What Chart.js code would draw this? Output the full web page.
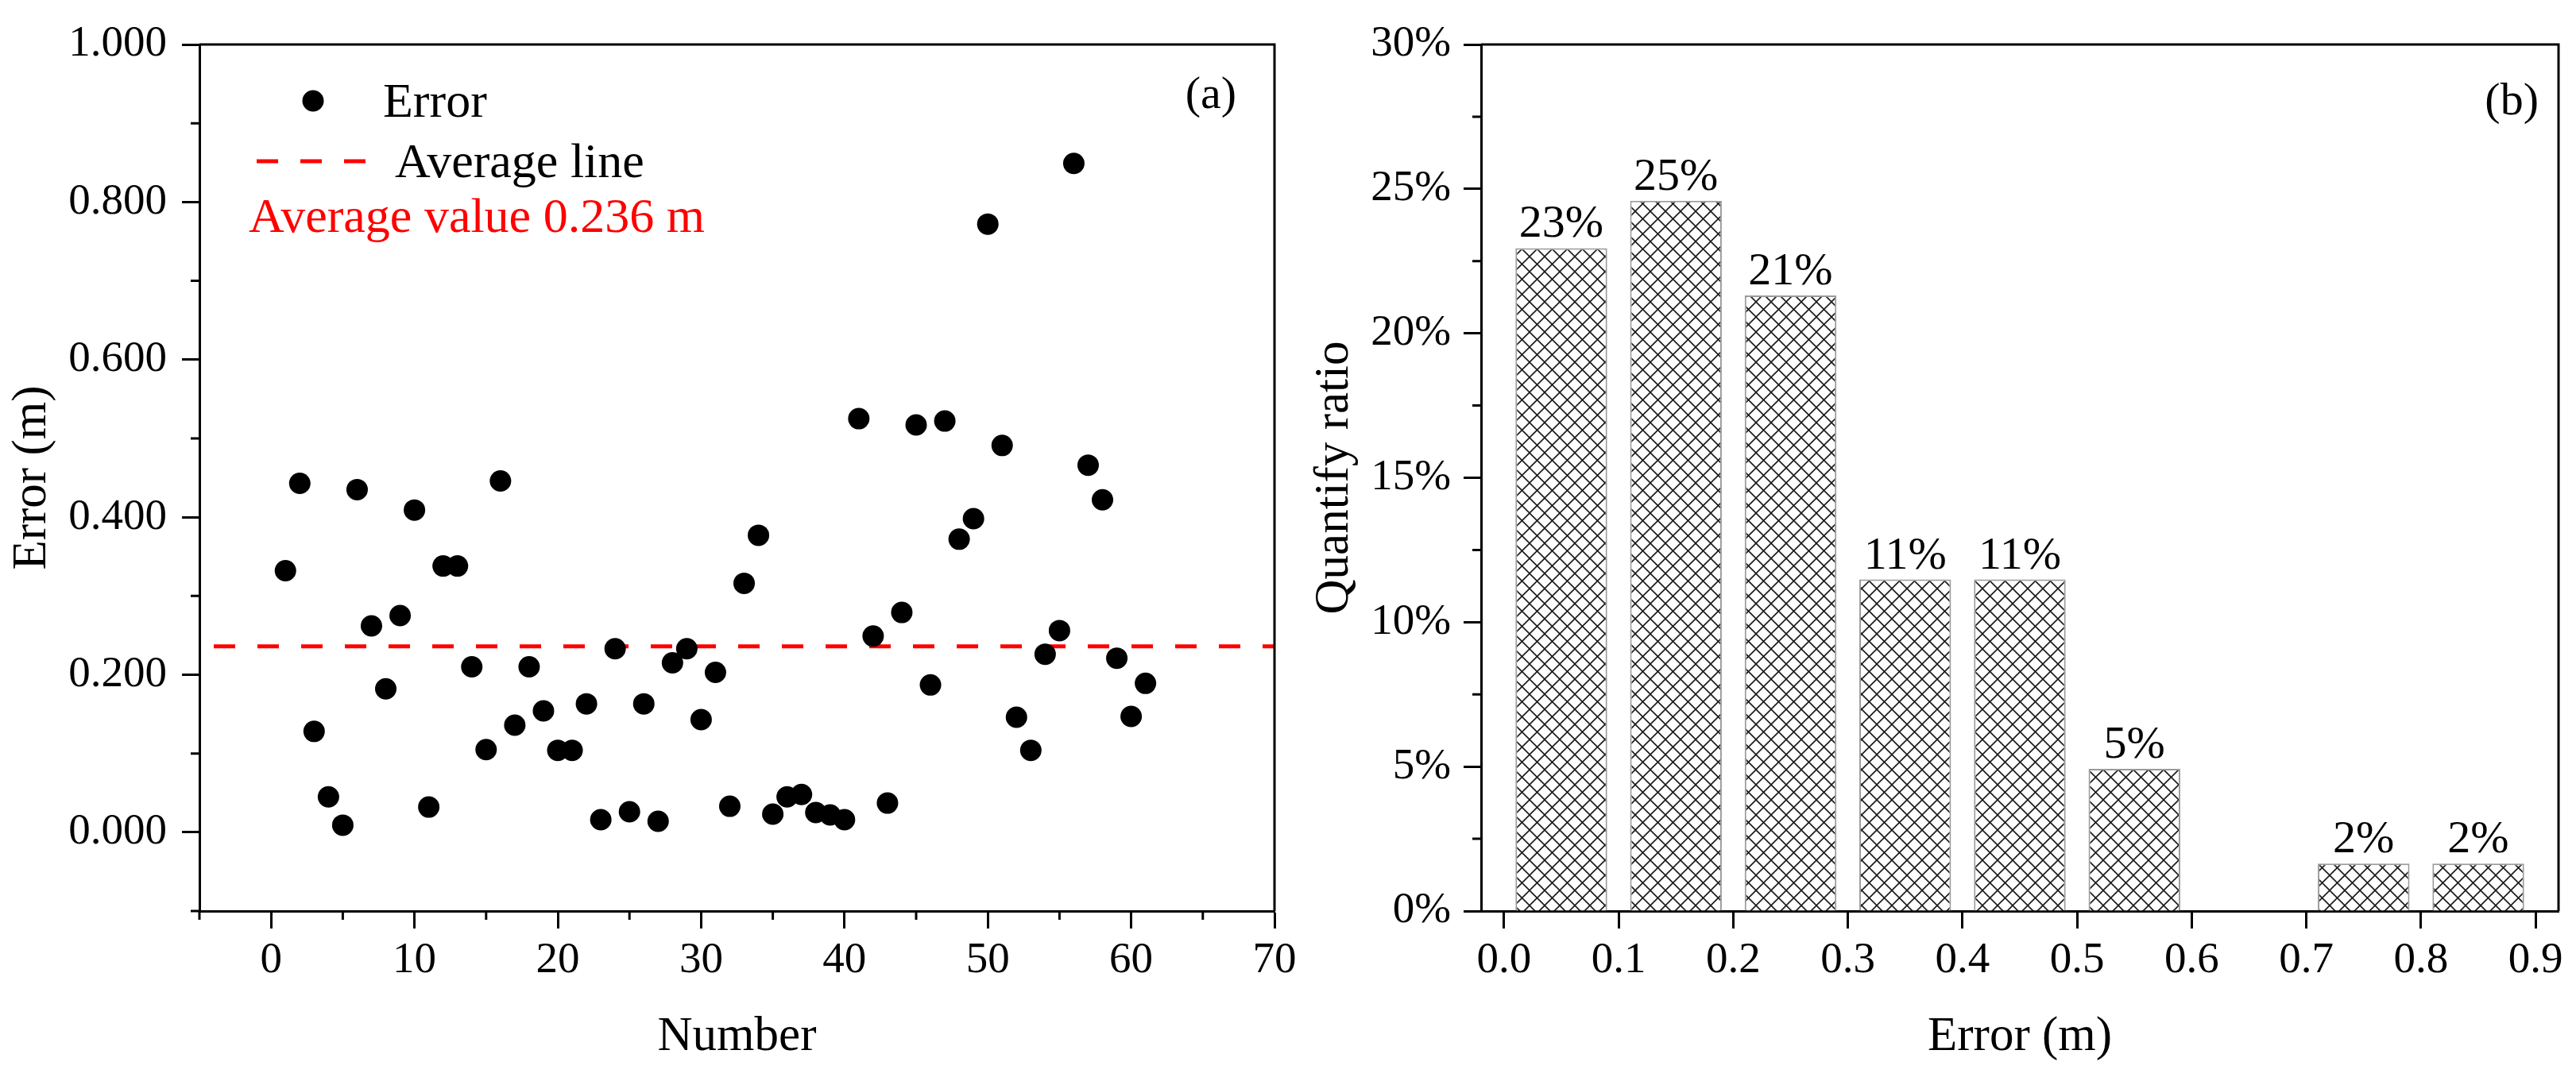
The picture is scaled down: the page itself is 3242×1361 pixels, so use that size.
<!DOCTYPE html>
<html><head><meta charset="utf-8">
<script src="https://cdn.jsdelivr.net/npm/chart.js@4.4.1/dist/chart.umd.min.js"></script>
<style>
html,body{margin:0;padding:0;background:#fff;width:3242px;height:1361px;overflow:hidden}
#wa{position:absolute;left:0;top:0;width:1640px;height:1361px}
#wb{position:absolute;left:1640px;top:0;width:1602px;height:1361px}
canvas{display:block}
</style></head><body>
<div id="wa"><canvas id="ca" width="1640" height="1361"></canvas></div>
<div id="wb"><canvas id="cb" width="1602" height="1361"></canvas></div>
<script>
// ---------- Panel (a) data ----------
const sampleNo = [1,2,3,4,5,6,7,8,9,10,11,12,13,14,15,16,17,18,19,20,21,22,23,24,25,26,27,28,29,30,
  31,32,33,34,35,36,37,38,39,40,41,42,43,44,45,46,47,48,49,50,51,52,53,54,55,56,57,58,59,60,61];
const errorValues = [0.332,0.443,0.128,0.045,0.009,0.435,0.262,0.182,0.275,0.409,
  0.032,0.338,0.338,0.210,0.105,0.446,0.136,0.210,0.154,0.104,
  0.104,0.163,0.016,0.233,0.026,0.163,0.014,0.215,0.233,0.143,
  0.203,0.033,0.316,0.377,0.023,0.045,0.048,0.025,0.022,0.016,
  0.525,0.249,0.037,0.279,0.517,0.187,0.522,0.372,0.398,0.772,
  0.491,0.146,0.104,0.226,0.256,0.849,0.466,0.422,0.221,0.147,0.189];
const avgValue = 0.236;
const avgLineX = [-5, 70];
const avgText = 'Average value 0.236 m';
const leftXTicks = [0,10,20,30,40,50,60,70];
const leftXTickLabels = ['0','10','20','30','40','50','60','70'];
const leftXMinor = [-5,5,15,25,35,45,55,65];
const leftYTicks = [0,0.2,0.4,0.6,0.8,1.0];
const leftYTickLabels = ['0.000','0.200','0.400','0.600','0.800','1.000'];
const leftYMinor = [-0.1,0.1,0.3,0.5,0.7,0.9];

// ---------- Panel (b) data ----------
const binCenters = [0.05,0.15,0.25,0.35,0.45,0.55,0.65,0.75,0.85];
const binRatios = [22.95,24.59,21.31,11.48,11.48,4.92,0,1.64,1.64];
const binLabels = ['23%','25%','21%','11%','11%','5%','','2%','2%'];
const rightXTicks = [0,0.1,0.2,0.3,0.4,0.5,0.6,0.7,0.8,0.9];
const rightXTickLabels = ['0.0','0.1','0.2','0.3','0.4','0.5','0.6','0.7','0.8','0.9'];
const rightYTicks = [0,5,10,15,20,25,30];
const rightYTickLabels = ['0%','5%','10%','15%','20%','25%','30%'];
const rightYMinor = [2.5,7.5,12.5,17.5,22.5,27.5];

const SERIF = '"Liberation Serif", "Times New Roman", Times, serif';
Chart.defaults.font.family = SERIF;
Chart.defaults.color = '#000';

function labelFrom(ticksArr, labelsArr){
  return function(v){
    const k = ticksArr.findIndex(t => Math.abs(t - v) < 1e-9);
    return k >= 0 ? labelsArr[k] : '';
  };
}
function setTicks(arr){ return function(s){ s.ticks = arr.map(v => ({value: v})); }; }

const axisCommon = {
  border: {display: true, color: '#000', width: 3},
  grid: {display: true, drawOnChartArea: false, drawTicks: true, tickLength: 22, tickWidth: 3, tickColor: '#000'}
};

const framePlugin = {
  id: 'frame',
  afterDraw(chart, args, opts) {
    const {ctx, chartArea: a} = chart;
    ctx.save();
    ctx.strokeStyle = '#000';
    ctx.lineWidth = 3;
    ctx.beginPath();
    ctx.moveTo(a.left, a.top); ctx.lineTo(a.right, a.top); ctx.lineTo(a.right, a.bottom);
    ctx.stroke();
    // minor ticks
    const len = 11;
    ctx.beginPath();
    (opts.xMinor || []).forEach(v => {
      const px = chart.scales.x.getPixelForValue(v);
      ctx.moveTo(px, a.bottom); ctx.lineTo(px, a.bottom + len);
    });
    (opts.yMinor || []).forEach(v => {
      const py = chart.scales.y.getPixelForValue(v);
      ctx.moveTo(a.left, py); ctx.lineTo(a.left - len, py);
    });
    ctx.stroke();
    // panel tag
    ctx.fillStyle = '#000';
    ctx.font = '58px ' + SERIF;
    ctx.textAlign = 'right';
    ctx.textBaseline = 'alphabetic';
    ctx.fillText(opts.tag, a.right - opts.tagDx, a.top + opts.tagDy);
    ctx.restore();
  }
};

const legendPlugin = {
  id: 'customLegend',
  afterDraw(chart) {
    const {ctx, chartArea: a} = chart;
    const ds0 = chart.data.datasets[0], ds1 = chart.data.datasets[1];
    ctx.save();
    ctx.font = '62px ' + SERIF;
    ctx.textAlign = 'left';
    ctx.textBaseline = 'alphabetic';
    // marker
    ctx.fillStyle = ds0.backgroundColor;
    ctx.beginPath();
    ctx.arc(a.left + 143, a.top + 71, ds0.pointRadius, 0, Math.PI * 2);
    ctx.fill();
    ctx.fillStyle = '#000';
    ctx.fillText(ds0.label, a.left + 231, a.top + 91);
    // dashed line sample
    ctx.strokeStyle = ds1.borderColor;
    ctx.lineWidth = ds1.borderWidth;
    ctx.setLineDash([27, 28]);
    ctx.beginPath();
    ctx.moveTo(a.left + 72, a.top + 147);
    ctx.lineTo(a.left + 211, a.top + 147);
    ctx.stroke();
    ctx.setLineDash([]);
    ctx.fillText(ds1.label, a.left + 246, a.top + 167);
    // average value text
    ctx.fillStyle = '#ff0000';
    ctx.fillText(avgText, a.left + 62, a.top + 236);
    ctx.restore();
  }
};

new Chart(document.getElementById('ca'), {
  type: 'scatter',
  data: {
    datasets: [
      {
        label: 'Error',
        data: sampleNo.map((n, i) => ({x: n, y: errorValues[i]})),
        backgroundColor: '#000000',
        borderColor: '#000000',
        borderWidth: 0,
        pointRadius: 13.5,
        pointHoverRadius: 13.5,
        order: 1
      },
      {
        label: 'Average line',
        data: avgLineX.map(x => ({x: x, y: avgValue})),
        showLine: true,
        borderColor: '#ff0000',
        backgroundColor: '#ff0000',
        borderWidth: 5,
        borderDash: [27, 28],
        borderDashOffset: 37,
        pointRadius: 0,
        order: 2
      }
    ]
  },
  options: {
    responsive: false,
    animation: false,
    devicePixelRatio: 1,
    layout: {padding: {top: 56, right: 36, bottom: 0, left: 0}},
    plugins: {
      legend: {display: false},
      tooltip: {enabled: false},
      frame: {xMinor: leftXMinor, yMinor: leftYMinor, tag: '(a)', tagDx: 48, tagDy: 80}
    },
    scales: {
      x: Object.assign({}, axisCommon, {
        type: 'linear', min: -5, max: 70,
        afterBuildTicks: setTicks(leftXTicks),
        afterFit: s => { s.height = 214; },
        ticks: {font: {size: 55}, color: '#000', padding: 8, maxRotation: 0, autoSkip: false,
                callback: labelFrom(leftXTicks, leftXTickLabels)},
        title: {display: true, text: 'Number', color: '#000', font: {size: 61, lineHeight: 1},
                padding: {top: 0, bottom: 25}}
      }),
      y: Object.assign({}, axisCommon, {
        type: 'linear', min: -0.1, max: 1.0,
        afterBuildTicks: setTicks(leftYTicks),
        afterFit: s => { s.width = 251; },
        ticks: {font: {size: 55}, color: '#000', padding: 19, autoSkip: false,
                callback: labelFrom(leftYTicks, leftYTickLabels)},
        title: {display: true, text: 'Error (m)', color: '#000', font: {size: 61, lineHeight: 1},
                padding: {top: 10, bottom: 0}}
      })
    }
  },
  plugins: [framePlugin, legendPlugin]
});

// hatch pattern
function makeHatch() {
  const s = 19;
  const c = document.createElement('canvas');
  c.width = s; c.height = s;
  const g = c.getContext('2d');
  g.fillStyle = '#ffffff';
  g.fillRect(0, 0, s, s);
  g.strokeStyle = '#1a1a1a';
  g.lineWidth = 1.6;
  g.beginPath();
  for (const d of [-s, 0, s]) {
    g.moveTo(d - 2, -2); g.lineTo(d + s + 2, s + 2);
    g.moveTo(d + s + 2, -2); g.lineTo(d - 2, s + 2);
  }
  g.stroke();
  return g.createPattern(c, 'repeat');
}

const barLabelPlugin = {
  id: 'barLabels',
  afterDatasetsDraw(chart) {
    const {ctx} = chart;
    const meta = chart.getDatasetMeta(0);
    ctx.save();
    ctx.font = '58px ' + SERIF;
    ctx.fillStyle = '#000';
    ctx.textAlign = 'center';
    ctx.textBaseline = 'alphabetic';
    meta.data.forEach((bar, i) => {
      if (!binLabels[i]) return;
      ctx.fillText(binLabels[i], bar.x, bar.y - 14);
    });
    ctx.restore();
  }
};

new Chart(document.getElementById('cb'), {
  type: 'bar',
  data: {
    datasets: [{
      label: 'Quantify ratio',
      data: binCenters.map((x, i) => ({x: x, y: binRatios[i]})),
      backgroundColor: makeHatch(),
      borderColor: '#9a9a9a',
      borderWidth: 2,
      barPercentage: 0.8,
      categoryPercentage: 1.0
    }]
  },
  options: {
    responsive: false,
    animation: false,
    devicePixelRatio: 1,
    layout: {padding: {top: 56, right: 22, bottom: 0, left: 0}},
    plugins: {
      legend: {display: false},
      tooltip: {enabled: false},
      frame: {xMinor: [], yMinor: rightYMinor, tag: '(b)', tagDx: 25, tagDy: 88}
    },
    scales: {
      x: Object.assign({}, axisCommon, {
        type: 'linear', min: -0.02, max: 0.92, offset: false,
        grid: Object.assign({}, axisCommon.grid, {offset: false}),
        afterBuildTicks: setTicks(rightXTicks),
        afterFit: s => { s.height = 214; },
        ticks: {font: {size: 55}, color: '#000', padding: 8, maxRotation: 0, autoSkip: false,
                callback: labelFrom(rightXTicks, rightXTickLabels)},
        title: {display: true, text: 'Error (m)', color: '#000', font: {size: 61, lineHeight: 1},
                padding: {top: 0, bottom: 25}}
      }),
      y: Object.assign({}, axisCommon, {
        type: 'linear', min: 0, max: 30,
        afterBuildTicks: setTicks(rightYTicks),
        afterFit: s => { s.width = 224; },
        ticks: {font: {size: 55}, color: '#000', padding: 16, autoSkip: false,
                callback: labelFrom(rightYTicks, rightYTickLabels)},
        title: {display: true, text: 'Quantify ratio', color: '#000', font: {size: 61, lineHeight: 1},
                padding: {top: 9, bottom: 0}}
      })
    }
  },
  plugins: [framePlugin, barLabelPlugin]
});
</script>
</body></html>
